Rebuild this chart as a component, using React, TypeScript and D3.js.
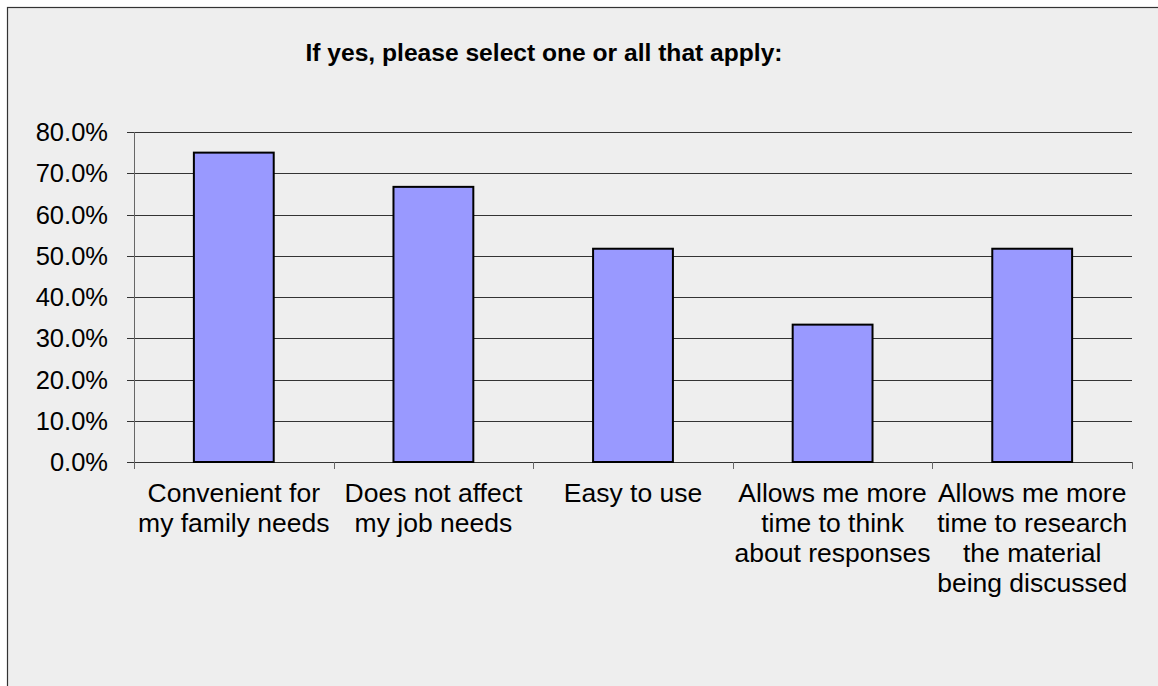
import React from "react";
import * as d3 from "d3";

const categories: string[][] = [
  ["Convenient for", "my family needs"],
  ["Does not affect", "my job needs"],
  ["Easy to use"],
  ["Allows me more", "time to think", "about responses"],
  ["Allows me more", "time to research", "the material", "being discussed"],
];
const values: number[] = [75.0, 66.7, 51.7, 33.3, 51.7];
const yTicks: number[] = [0, 10, 20, 30, 40, 50, 60, 70, 80];
const title = "If yes, please select one or all that apply:";

const W = 1158;
const H = 686;
const left = 134;
const right = 1132;
const top = 132;
const bottom = 462;
const FONT = "'Liberation Sans', Arial, sans-serif";

export default function App() {
  const x = d3
    .scaleBand<number>()
    .domain(d3.range(categories.length))
    .range([left, right])
    .paddingInner(0)
    .paddingOuter(0);
  const y = d3.scaleLinear().domain([0, 80]).range([bottom, top]);
  const bw = x.bandwidth() * 0.4;
  const edges = d3.range(categories.length + 1).map((i) => left + i * x.step());

  return (
    <svg
      width={W}
      height={H}
      style={{ position: "absolute", left: 0, top: 0, display: "block" }}
    >
      <rect x={0} y={0} width={W} height={H} fill="#ffffff" />
      <rect x={7.5} y={7.5} width={W + 10} height={H + 10} fill="#eeeeee" stroke="#333" strokeWidth={1.2} />
      <text
        x={544}
        y={61}
        textAnchor="middle"
        fontFamily={FONT}
        fontWeight="bold"
        fontSize={24.6}
        fill="#000"
      >
        {title}
      </text>
      {yTicks.map((t) => (
        <g key={t}>
          <line
            x1={left - 7}
            x2={right}
            y1={Math.round(y(t)) + 0.5}
            y2={Math.round(y(t)) + 0.5}
            stroke="#333"
            strokeWidth={1}
          />
          <text
            x={108}
            y={y(t) + 9}
            textAnchor="end"
            fontFamily={FONT}
            fontSize={25.5}
            fill="#000"
          >
            {t.toFixed(1) + "%"}
          </text>
        </g>
      ))}
      <line x1={left + 0.5} x2={left + 0.5} y1={top} y2={bottom + 7} stroke="#666" strokeWidth={1} />
      {edges.map((e, i) => (
        <line
          key={i}
          x1={Math.round(e) + 0.5}
          x2={Math.round(e) + 0.5}
          y1={bottom}
          y2={bottom + 7}
          stroke="#666"
          strokeWidth={1}
        />
      ))}
      {values.map((v, i) => {
        const cx = (x(i) as number) + x.bandwidth() / 2;
        return (
          <rect
            key={i}
            x={cx - bw / 2}
            y={y(v)}
            width={bw}
            height={bottom - y(v)}
            fill="#9999ff"
            stroke="#000"
            strokeWidth={2}
          />
        );
      })}
      {categories.map((lines, i) => {
        const cx = (x(i) as number) + x.bandwidth() / 2;
        return (
          <text
            key={i}
            textAnchor="middle"
            fontFamily={FONT}
            fontSize={26.5}
            fill="#000"
          >
            {lines.map((l, j) => (
              <tspan key={j} x={cx} y={502 + j * 30}>
                {l}
              </tspan>
            ))}
          </text>
        );
      })}
    </svg>
  );
}
